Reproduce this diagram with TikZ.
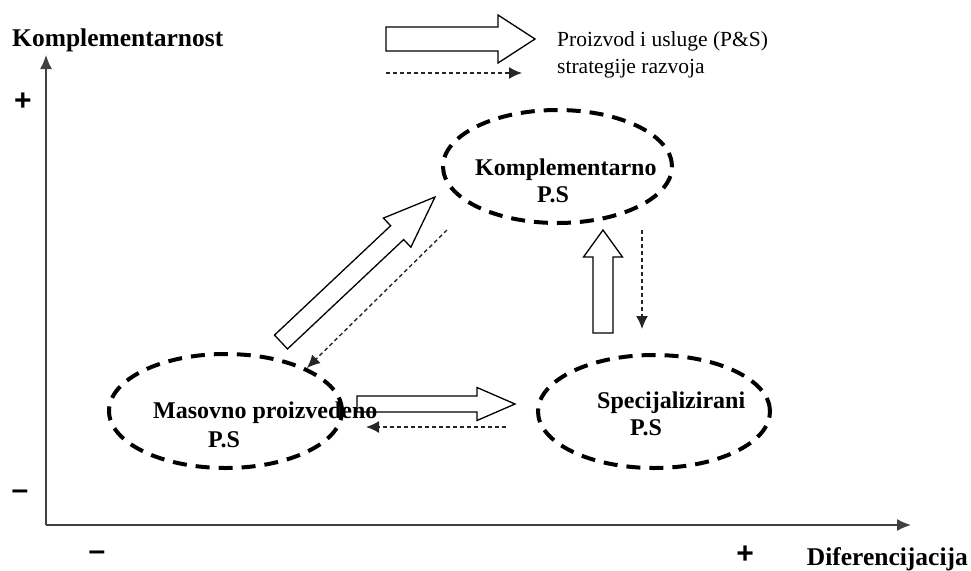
\documentclass[tikz,border=0pt]{standalone}
\usepackage{fontspec}
\setmainfont{Liberation Serif}
\setsansfont{Liberation Sans}
\usetikzlibrary{shapes.geometric,arrows.meta,calc}

% hollow block arrow: tail, tip, shaft half width, head half width, head length
\newcommand{\blockarrow}[5]{%
  \coordinate (h#1) at ($(#2)!#5!(#1)$);
  \draw[blockline] ($(#1)!#3!90:(#2)$) -- ($(h#1)!#3!-90:(#1)$) -- ($(h#1)!#4!-90:(#1)$) -- (#2)
    -- ($(h#1)!#4!90:(#1)$) -- ($(h#1)!#3!90:(#1)$) -- ($(#1)!#3!-90:(#2)$) -- cycle;}

\begin{document}
\begin{tikzpicture}[x=1pt,y=-1pt,
    oval/.style={ellipse,draw,line width=4pt,dash pattern=on 14pt off 9pt},
    blockline/.style={draw,line width=1.3pt,line join=miter},
    dasharr/.style={draw,black!85,line width=1.4pt,dash pattern=on 4pt off 3pt,-{Latex[length=13pt,width=12pt]}},
    axis/.style={draw,black!75,line width=1.4pt,-{Latex[length=14pt,width=12pt]}},
    axlabel/.style={font=\fontsize{25.5}{28}\selectfont\bfseries,inner sep=0pt},
    sign/.style={font=\fontsize{30}{32}\selectfont\sffamily\bfseries,inner sep=0pt},
    pslabel/.style={font=\fontsize{24}{27}\selectfont\bfseries,inner sep=0pt,anchor=base west},
    legtext/.style={font=\fontsize{21.5}{24}\selectfont,inner sep=0pt,anchor=base west}]
  \useasboundingbox (0,0) rectangle (971,570);

  % axes
  \coordinate (O) at (46,525);
  \coordinate (ytip) at (46,55);
  \coordinate (xtip) at (911,525);
  \draw[axis] (O) -- (ytip);
  \draw[axis] (O) -- (xtip);
  \node[axlabel,anchor=base west] (ylab) at (12,46) {Komplementarnost};
  \node[axlabel,anchor=base east] (xlab) at (968,565) {Diferencijacija};
  \node[sign] (yplus) at (23,102) {+};
  \node[sign] (yminus) at (20,495) {--};
  \node[sign] (xminus) at (97,556) {--};
  \node[sign] (xplus) at (745,555) {+};

  % legend
  \coordinate (lg1) at (386,39);
  \coordinate (lg2) at (535,39);
  \blockarrow{lg1}{lg2}{12pt}{24pt}{37pt}
  \coordinate (ld1) at (386,73);
  \coordinate (ld2) at (522,73);
  \draw[dasharr] (ld1) -- (ld2);
  \node[legtext] (leg1) at (557,46) {Proizvod i usluge (P\&S)};
  \node[legtext] (leg2) at (557,73) {strategije razvoja};

  % the three kinds of P.S
  \node[oval,minimum width=229pt,minimum height=113pt] (kom) at (557.5,166.5) {};
  \node[oval,minimum width=233pt,minimum height=114pt] (mas) at (225.5,411) {};
  \node[oval,minimum width=232pt,minimum height=113pt] (spe) at (654,411.5) {};
  \node[pslabel] (komA) at (475,175) {Komplementarno};
  \node[pslabel] (komB) at (537,202) {P.S};
  \node[pslabel] (masA) at (153,418) {Masovno proizvedeno};
  \node[pslabel] (masB) at (208,447) {P.S};
  \node[pslabel] (speA) at (597,408) {Specijalizirani};
  \node[pslabel] (speB) at (630,435) {P.S};

  % strategies
  \coordinate (d1) at (281,342);
  \coordinate (d2) at (435,197);
  \blockarrow{d1}{d2}{9.5pt}{20pt}{52pt}
  \coordinate (v1) at (603,333);
  \coordinate (v2) at (603,230);
  \blockarrow{v1}{v2}{10pt}{19.5pt}{27pt}
  \coordinate (r1) at (357,404);
  \coordinate (r2) at (515,404);
  \blockarrow{r1}{r2}{8pt}{16.5pt}{38pt}

  \coordinate (dd1) at (447,230);
  \coordinate (dd2) at (307,368);
  \draw[dasharr] (dd1) -- (dd2);
  \coordinate (vd1) at (642,230);
  \coordinate (vd2) at (642,329);
  \draw[dasharr] (vd1) -- (vd2);
  \coordinate (rd1) at (506,427);
  \coordinate (rd2) at (366,427);
  \draw[dasharr] (rd1) -- (rd2);
\end{tikzpicture}
\end{document}
